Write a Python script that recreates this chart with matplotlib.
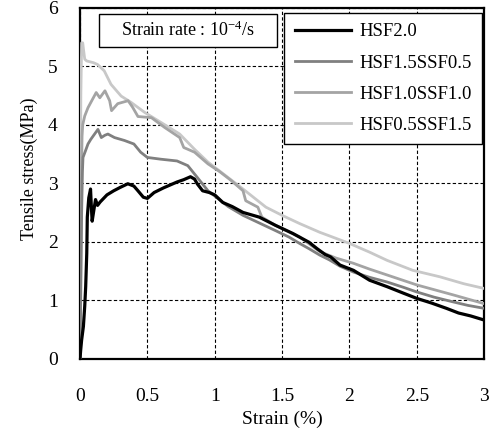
import matplotlib
matplotlib.use('Agg')
import matplotlib.pyplot as plt
from matplotlib.patches import Rectangle

plt.rcParams['font.family'] = ['Liberation Serif', 'DejaVu Serif']
plt.rcParams['mathtext.fontset'] = 'stix'

# HSF2.0
x_hsf20 = [0, 0.005, 0.012, 0.025, 0.035, 0.042, 0.05, 0.054, 0.065, 0.078, 0.084, 0.09,
           0.1, 0.115, 0.13, 0.15, 0.2, 0.25, 0.3, 0.355, 0.4, 0.43, 0.47, 0.5, 0.55,
           0.62, 0.72, 0.77, 0.82, 0.85, 0.87, 0.91, 0.96, 1.0, 1.06, 1.13, 1.21, 1.33,
           1.45, 1.58, 1.7, 1.76, 1.82, 1.86, 1.93, 2.03, 2.15, 2.28, 2.4, 2.5, 2.61,
           2.72, 2.81, 2.9, 3.0]
y_hsf20 = [0, 0.15, 0.32, 0.55, 0.9, 1.23, 1.8, 2.42, 2.75, 2.9, 2.6, 2.35,
           2.5, 2.72, 2.62, 2.68, 2.8, 2.87, 2.93, 2.99, 2.95, 2.87, 2.76, 2.74, 2.84,
           2.92, 3.02, 3.06, 3.11, 3.07, 2.99, 2.87, 2.84, 2.8, 2.67, 2.6, 2.5, 2.42,
           2.28, 2.14, 1.99, 1.88, 1.78, 1.74, 1.6, 1.51, 1.34, 1.23, 1.12, 1.03, 0.95,
           0.86, 0.78, 0.73, 0.66]

# HSF1.5SSF0.5
x_hsf15 = [0, 0.005, 0.012, 0.018, 0.022, 0.04, 0.059, 0.08, 0.108, 0.133, 0.158, 0.185,
           0.207, 0.256, 0.33, 0.4, 0.45, 0.5, 0.6, 0.72, 0.8, 0.87, 0.95, 1.0, 1.1,
           1.21, 1.33, 1.45, 1.55, 1.63, 1.7, 1.78, 1.85, 1.93, 2.03, 2.15, 2.28, 2.4,
           2.5, 2.63, 2.77, 2.88, 3.0]
y_hsf15 = [0, 1.0, 2.5, 3.2, 3.44, 3.55, 3.67, 3.75, 3.84, 3.92, 3.78, 3.82,
           3.84, 3.78, 3.73, 3.67, 3.53, 3.44, 3.41, 3.38, 3.3, 3.1, 2.87, 2.78, 2.6,
           2.45, 2.32, 2.19, 2.08, 1.97, 1.88, 1.77, 1.69, 1.58, 1.48, 1.39, 1.31, 1.22,
           1.14, 1.05, 0.97, 0.91, 0.86]

# HSF1.0SSF1.0
x_hsf10 = [0, 0.005, 0.01, 0.015, 0.02, 0.035, 0.059, 0.087, 0.12, 0.147, 0.185, 0.22,
           0.234, 0.28, 0.357, 0.39, 0.43, 0.53, 0.63, 0.74, 0.77, 0.85, 0.95, 1.035,
           1.12, 1.21, 1.23, 1.32, 1.35, 1.45, 1.63, 1.78, 1.9, 2.03, 2.15, 2.28, 2.5,
           2.77, 3.0]
y_hsf10 = [0, 1.5, 3.0, 3.8, 4.0, 4.15, 4.29, 4.41, 4.55, 4.46, 4.58, 4.41,
           4.24, 4.36, 4.41, 4.3, 4.14, 4.12, 3.95, 3.78, 3.61, 3.53, 3.33, 3.2,
           3.05, 2.87, 2.7, 2.59, 2.42, 2.28, 2.08, 1.83, 1.72, 1.63, 1.53, 1.43, 1.26,
           1.09, 0.94]

# HSF0.5SSF1.5
x_hsf05 = [0, 0.003, 0.006, 0.012, 0.02, 0.025, 0.035, 0.05, 0.1, 0.13, 0.18, 0.23,
           0.305, 0.38, 0.48, 0.6, 0.74, 0.85, 0.95, 1.035, 1.21, 1.38, 1.5, 1.63,
           1.78, 1.85, 2.0, 2.15, 2.28, 2.47, 2.67, 2.85, 3.0]
y_hsf05 = [0, 2.5, 4.5, 5.4, 5.4, 5.3, 5.12, 5.09, 5.06, 5.03, 4.92, 4.69,
           4.49, 4.38, 4.21, 4.04, 3.84, 3.58, 3.36, 3.21, 2.9, 2.59, 2.45, 2.31,
           2.16, 2.1, 1.97, 1.82, 1.68, 1.51, 1.4, 1.28, 1.2]

labels = ['HSF2.0', 'HSF1.5SSF0.5', 'HSF1.0SSF1.0', 'HSF0.5SSF1.5']
colors = ['#000000', '#808080', '#a4a4a4', '#c8c8c8']
widths = [2.3, 2.0, 2.0, 2.0]

fig = plt.figure(figsize=(4.94, 4.30), dpi=100)
ax = fig.add_axes([0.162, 0.166, 0.818, 0.816])

series = [(x_hsf20, y_hsf20), (x_hsf15, y_hsf15), (x_hsf10, y_hsf10), (x_hsf05, y_hsf05)]
# draw light ones first so black sits on top
for i in [3, 2, 1, 0]:
    xs, ys = series[i]
    ax.plot(xs, ys, color=colors[i], lw=widths[i], label=labels[i], zorder=3 + (3 - i))

ax.set_xlim(0, 3)
ax.set_ylim(0, 6)
ax.set_xticks([0, 0.5, 1, 1.5, 2, 2.5, 3])
ax.set_xticklabels(['0', '0.5', '1', '1.5', '2', '2.5', '3'])
ax.set_yticks(range(0, 7))
ax.tick_params(length=0, labelsize=14)
ax.tick_params(axis='x', pad=21)
ax.tick_params(axis='y', pad=16)
ax.grid(True, color='black', ls=(0, (3, 2)), lw=0.8)
for s in ax.spines.values():
    s.set_linewidth(1.6)

ax.set_xlabel('Strain (%)', fontsize=14, labelpad=4)
ax.set_ylabel('Tensile stress(MPa)', fontsize=13)
ax.yaxis.set_label_coords(-0.105, 0.54)

handles, labs = ax.get_legend_handles_labels()
order = [labs.index(l) for l in labels]
leg = ax.legend([handles[k] for k in order], [labs[k] for k in order],
                loc='upper right', bbox_to_anchor=(0.995, 0.985), borderaxespad=0,
                fontsize=13.5, frameon=True, fancybox=False, edgecolor='black',
                framealpha=1, handlelength=3.0, handletextpad=0.45,
                labelspacing=0.75, borderpad=0.55)
leg.get_frame().set_linewidth(1.0)
leg.set_zorder(10)

ax.add_patch(Rectangle((0.047, 0.889), 0.441, 0.094, transform=ax.transAxes,
                       facecolor='white', edgecolor='black', lw=1.0, zorder=9))
ax.text(0.2675, 0.936, 'Strain rate : 10$^{\\mathregular{-4}}$/s', transform=ax.transAxes,
        ha='center', va='center', fontsize=13, zorder=11)

fig.savefig('out.png', dpi=100)
